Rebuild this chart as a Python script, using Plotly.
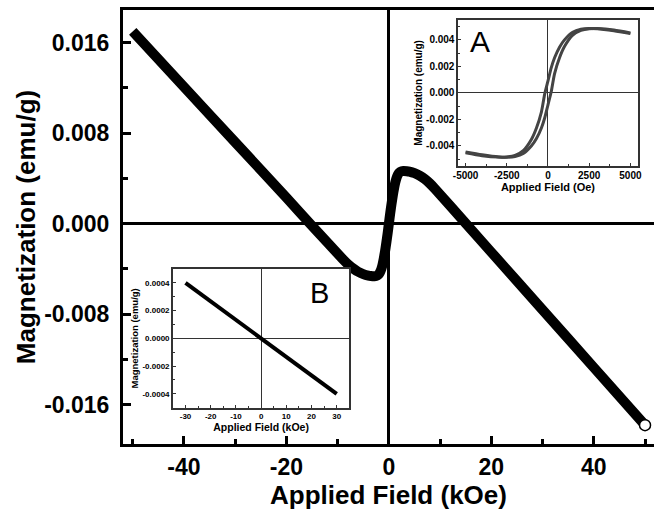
import plotly.graph_objects as go

# Main M(H) sweep, field in kOe, magnetization in emu/g
field_koe = [-50, -40, -30, -20, -15, -9, -8, -7, -6, -5, -4, -3.5, -2.8, -2.5, -2.25, -2,
             -1.75, -1.5, -1.25, -1, -0.75, -0.5, -0.25, 0, 0.25, 0.5, 0.75, 1, 1.25, 1.5,
             1.75, 2, 2.25, 2.5, 2.8, 3.5, 4, 5, 6, 7, 8, 9, 15, 20, 30, 40, 50]
magnet_main = [0.0170, 0.0121, 0.0072, 0.0023, -0.0002, -0.00314, -0.00359, -0.00396,
               -0.00426, -0.00447, -0.00460, -0.00464, -0.00466, -0.00464, -0.00459,
               -0.00450, -0.00432, -0.00405, -0.00365, -0.00310, -0.00245, -0.00170,
               -0.00088, 0.00000, 0.00088, 0.00170, 0.00245, 0.00310, 0.00365, 0.00405,
               0.00432, 0.00450, 0.00459, 0.00464, 0.00466, 0.00464, 0.00460, 0.00446,
               0.00424, 0.00394, 0.00355, 0.00308, 0.00002, -0.00253, -0.00763, -0.01273,
               -0.01783]

# Inset A: low-field hysteresis loop, field in Oe
field_oe = [-5000, -4000, -3000, -2500, -2000, -1500, -1000, -700, -400, -200, 0, 200,
            400, 700, 1000, 1500, 2000, 2500, 3000, 4000, 5000]
loop_upper = [-0.00452, -0.00474, -0.00485, -0.00484, -0.00472, -0.00436, -0.00350,
              -0.00265, -0.00145, -0.00010, 0.00090, 0.00190, 0.00265, 0.00345, 0.00400,
              0.00458, 0.00480, 0.00486, 0.00484, 0.00468, 0.00447]
loop_lower = [-0.00447, -0.00468, -0.00484, -0.00486, -0.00480, -0.00458, -0.00400,
              -0.00345, -0.00265, -0.00190, -0.00090, 0.00010, 0.00145, 0.00265, 0.00350,
              0.00436, 0.00472, 0.00484, 0.00485, 0.00474, 0.00452]

# Inset B: linear response, field in kOe
field_b = [-30, 0, 30]
magnet_b = [0.0004, 0.0, -0.0004]

main_xticks = [-40, -20, 0, 20, 40]
main_xtext = ["-40", "-20", "0", "20", "40"]
main_yticks = [0.016, 0.008, 0.0, -0.008, -0.016]
main_ytext = ["0.016", "0.008", "0.000", "-0.008", "-0.016"]
a_xticks = [-5000, -2500, 0, 2500, 5000]
a_xtext = ["-5000", "-2500", "0", "2500", "5000"]
a_yticks = [0.004, 0.002, 0.0, -0.002, -0.004]
a_ytext = ["0.004", "0.002", "0.000", "-0.002", "-0.004"]
b_xticks = [-30, -20, -10, 0, 10, 20, 30]
b_xtext = ["-30", "-20", "-10", "0", "10", "20", "30"]
b_yticks = [0.0004, 0.0002, 0.0, -0.0002, -0.0004]
b_ytext = ["0.0004", "0.0002", "0.0000", "-0.0002", "-0.0004"]

FONT = "Liberation Sans"


def bold(size):
    return dict(family=FONT, size=size, color="black", weight="bold")


fig = go.Figure()

fig.add_trace(go.Scatter(x=field_koe, y=magnet_main, mode="lines",
                         line=dict(color="black", width=10, shape="spline", smoothing=0.5,
                                   simplify=False),
                         xaxis="x", yaxis="y", showlegend=False))
fig.add_trace(go.Scatter(x=[field_koe[-1]], y=[magnet_main[-1]], mode="markers",
                         marker=dict(size=11, color="white", line=dict(color="black", width=1.5)),
                         xaxis="x", yaxis="y", showlegend=False))

for branch in (loop_upper, loop_lower):
    fig.add_trace(go.Scatter(x=field_oe, y=branch, mode="lines",
                             line=dict(color="#444444", width=3, shape="spline", smoothing=0.7,
                                       simplify=False),
                             xaxis="x2", yaxis="y2", showlegend=False))

fig.add_trace(go.Scatter(x=field_b, y=magnet_b, mode="lines",
                         line=dict(color="black", width=4),
                         xaxis="x3", yaxis="y3", showlegend=False))

main_axis = dict(showline=True, linecolor="black", linewidth=3, showgrid=False,
                 zeroline=True, zerolinecolor="black", zerolinewidth=2.5,
                 ticks="inside", ticklen=8, tickwidth=2.5, tickcolor="black",
                 tickfont=bold(23))

inset_axis = dict(showline=True, mirror=True, linecolor="#333333", linewidth=1.5,
                  showgrid=False, zeroline=True, zerolinecolor="#333333", zerolinewidth=1,
                  ticks="inside", ticklen=3, tickwidth=1, tickcolor="#333333")

fig.update_layout(
    width=658, height=515,
    margin=dict(l=123, r=0, t=10, b=71),
    paper_bgcolor="white", plot_bgcolor="white",
    xaxis=dict(main_axis, range=[-51.9, 51.75], tickvals=main_xticks, ticktext=main_xtext,
               mirror=True,
               minor=dict(dtick=10, tick0=0, ticks="inside", ticklen=5, tickwidth=2.5,
                          tickcolor="black"),
               title=dict(text="Applied Field (kOe)", font=bold(26), standoff=2),
               domain=[0, 1], anchor="y"),
    yaxis=dict(main_axis, range=[-0.0195, 0.0189], tickvals=main_yticks, ticktext=main_ytext,
               minor=dict(dtick=0.004, tick0=0, ticks="inside", ticklen=5, tickwidth=2.5,
                          tickcolor="black"),
               ticklabelstandoff=6,
               title=dict(text="Magnetization (emu/g)", font=bold(26), standoff=2),
               domain=[0, 1], anchor="x"),
    xaxis2=dict(inset_axis, range=[-5450, 5450], tickvals=a_xticks, ticktext=a_xtext,
                minor=dict(dtick=1250, tick0=0, ticks="inside", ticklen=2, tickcolor="#333333"),
                tickfont=bold(10),
                title=dict(text="Applied Field (Oe)", font=bold(11), standoff=3),
                domain=[0.6312, 0.9695], anchor="y2"),
    yaxis2=dict(inset_axis, range=[-0.0055, 0.0055], tickvals=a_yticks, ticktext=a_ytext,
                minor=dict(dtick=0.001, tick0=0, ticks="inside", ticklen=2, tickcolor="#333333"),
                tickfont=bold(10),
                title=dict(text="Magnetization (emu/g)", font=bold(10), standoff=2),
                domain=[0.6412, 0.9770], anchor="x2"),
    xaxis3=dict(inset_axis, range=[-35, 35], tickvals=b_xticks, ticktext=b_xtext,
                minor=dict(dtick=5, tick0=0, ticks="inside", ticklen=2, tickcolor="#333333"),
                tickfont=bold(8),
                title=dict(text="Applied Field (kOe)", font=bold(10.5), standoff=3),
                domain=[0.0940, 0.4262], anchor="y3"),
    yaxis3=dict(inset_axis, range=[-0.0005, 0.0005], tickvals=b_yticks, ticktext=b_ytext,
                minor=dict(dtick=0.0001, tick0=0, ticks="inside", ticklen=2, tickcolor="#333333"),
                tickfont=bold(8),
                title=dict(text="Magnetization (emu/g)", font=bold(9.5), standoff=2),
                domain=[0.0836, 0.4032], anchor="x3"),
    annotations=[
        dict(text="A", x=-4100, y=0.0039, xref="x2", yref="y2", showarrow=False,
             font=dict(family=FONT, size=30, color="black")),
        dict(text="B", x=23, y=0.00033, xref="x3", yref="y3", showarrow=False,
             font=dict(family=FONT, size=29, color="black")),
    ],
)

fig.write_html("out.html")
